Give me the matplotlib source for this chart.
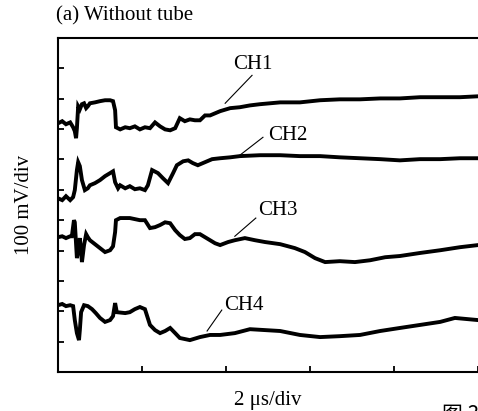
import matplotlib

matplotlib.use("Agg")
import matplotlib.pyplot as plt  # noqa: E402

# time in microseconds, signal in mV (offset per channel as displayed)
ch1_t = [0, 0.10, 0.19, 0.29, 0.36, 0.40, 0.43, 0.45, 0.48, 0.52, 0.57, 0.62, 0.67, 0.71,
         0.76, 0.88, 1.0, 1.12, 1.24, 1.31, 1.36, 1.38, 1.48, 1.60, 1.71, 1.83, 1.95, 2.07,
         2.19, 2.31, 2.43, 2.55, 2.67, 2.79, 2.90, 3.02, 3.14, 3.26, 3.38, 3.50, 3.62, 3.74,
         3.86, 4.10, 4.33, 4.57, 4.81, 5.05, 5.29, 5.76, 6.24, 6.71, 7.19, 7.67, 8.14, 8.62,
         9.10, 9.57, 10.0]
ch1_v = [819, 826, 816, 822, 806, 793, 770, 803, 875, 865, 882, 885, 869, 875,
         885, 888, 892, 895, 895, 892, 862, 806, 799, 806, 803, 809, 799, 806,
         803, 822, 809, 799, 796, 803, 836, 826, 832, 829, 829, 845, 845, 852,
         859, 869, 872, 878, 882, 885, 888, 888, 895, 898, 898, 901, 901, 905,
         905, 905, 908]

ch2_t = [0, 0.10, 0.19, 0.29, 0.36, 0.40, 0.45, 0.48, 0.52, 0.57, 0.64, 0.71, 0.76, 0.88,
         1.0, 1.12, 1.24, 1.31, 1.36, 1.43, 1.48, 1.60, 1.71, 1.83, 1.95, 2.07, 2.14, 2.24,
         2.38, 2.50, 2.62, 2.74, 2.83, 2.98, 3.10, 3.21, 3.33, 3.50, 3.67, 3.86, 4.10, 4.33,
         4.81, 5.29, 5.76, 6.24, 6.71, 7.19, 7.67, 8.14, 8.62, 9.10, 9.57, 10.0]
ch2_v = [572, 566, 579, 566, 576, 599, 665, 691, 678, 632, 599, 605, 615, 622,
         632, 645, 655, 661, 625, 605, 615, 605, 612, 602, 605, 599, 615, 665,
         655, 638, 622, 655, 681, 694, 697, 688, 681, 691, 701, 704, 707, 711,
         714, 714, 711, 711, 707, 704, 701, 697, 701, 701, 704, 704]

ch3_t = [0, 0.10, 0.19, 0.29, 0.33, 0.38, 0.40, 0.45, 0.48, 0.52, 0.57, 0.62, 0.67, 0.71,
         0.76, 0.88, 1.0, 1.12, 1.24, 1.31, 1.36, 1.38, 1.48, 1.71, 1.95, 2.07, 2.19, 2.31,
         2.43, 2.55, 2.67, 2.79, 2.90, 3.02, 3.14, 3.26, 3.38, 3.50, 3.62, 3.74, 3.86, 4.05,
         4.21, 4.45, 4.69, 4.93, 5.29, 5.64, 5.88, 6.12, 6.36, 6.71, 7.07, 7.43, 7.79, 8.14,
         8.62, 9.10, 9.57, 10.0]
ch3_v = [444, 447, 441, 447, 447, 500, 493, 375, 401, 441, 362, 418, 454, 444,
         434, 421, 408, 395, 401, 414, 461, 500, 507, 507, 500, 500, 474, 477,
         484, 493, 490, 467, 451, 438, 441, 454, 454, 444, 434, 424, 418, 428,
         434, 441, 434, 428, 421, 408, 395, 375, 362, 365, 362, 368, 378, 382,
         392, 401, 411, 418]

ch4_t = [0, 0.10, 0.19, 0.29, 0.36, 0.40, 0.45, 0.50, 0.52, 0.55, 0.62, 0.71, 0.81, 0.90,
         1.0, 1.12, 1.24, 1.31, 1.36, 1.40, 1.60, 1.71, 1.83, 1.95, 2.07, 2.19, 2.31, 2.43,
         2.55, 2.67, 2.79, 2.90, 3.14, 3.38, 3.62, 3.86, 4.21, 4.57, 4.93, 5.29, 5.76, 6.24,
         6.71, 7.19, 7.67, 8.14, 8.62, 9.10, 9.45, 10.0]
ch4_v = [220, 224, 217, 220, 217, 171, 128, 105, 138, 197, 220, 217, 207, 194,
         178, 165, 171, 184, 227, 197, 194, 197, 207, 214, 207, 155, 138, 128,
         135, 145, 128, 112, 105, 115, 122, 122, 128, 141, 138, 135, 122, 115,
         118, 122, 135, 145, 155, 165, 178, 171]

labels = ["CH1", "CH2", "CH3", "CH4"]
# label centre (t, mV) and leader line (from curve point to label)
label_pos = [(4.63, 1012), (5.48, 780), (5.23, 531), (4.42, 220)]
leader_from = [(3.98, 885), (4.33, 714), (4.21, 447), (3.55, 135)]
leader_to = [(4.62, 977), (4.88, 773), (4.71, 507), (3.90, 204)]

plt.rcParams["font.family"] = ["Liberation Serif", "DejaVu Serif"]

fig = plt.figure(figsize=(4.78, 4.11), dpi=100)
ax = fig.add_axes([58 / 478, 1 - 372 / 411, 1 - 58 / 478, (372 - 38) / 411])

for t, v in [(ch1_t, ch1_v), (ch2_t, ch2_v), (ch3_t, ch3_v), (ch4_t, ch4_v)]:
    ax.plot(t, v, color="black", lw=2.8, solid_joinstyle="miter")

for name, pos, a, b in zip(labels, label_pos, leader_from, leader_to):
    ax.plot([a[0], b[0]], [a[1], b[1]], color="black", lw=0.8)
    ax.text(pos[0], pos[1], name, ha="center", va="center", fontsize=15)

ax.set_xlim(0, 10)
ax.set_ylim(0, 1100)
ax.set_xticks(range(0, 11, 2))
ax.set_yticks(range(0, 1101, 100))
ax.set_xticklabels([])
ax.set_yticklabels([])
ax.tick_params(direction="in", length=4, width=1.3)
ax.spines["right"].set_visible(False)
for s in ("left", "top", "bottom"):
    ax.spines[s].set_linewidth(1.5)

ax.set_xlabel("2 \u03bcs/div", fontsize=15, labelpad=10)
ax.set_ylabel("100 mV/div", fontsize=15, labelpad=14)
fig.text(56 / 478, 1 - 16 / 411, "(a) Without tube", ha="left", va="center", fontsize=15)
fig.text(442 / 478, 0.018, "\u56fe 3", ha="left", va="top", fontsize=15,
         family=["Noto Sans CJK SC", "DejaVu Sans"])

fig.savefig("out.png", dpi=100)
